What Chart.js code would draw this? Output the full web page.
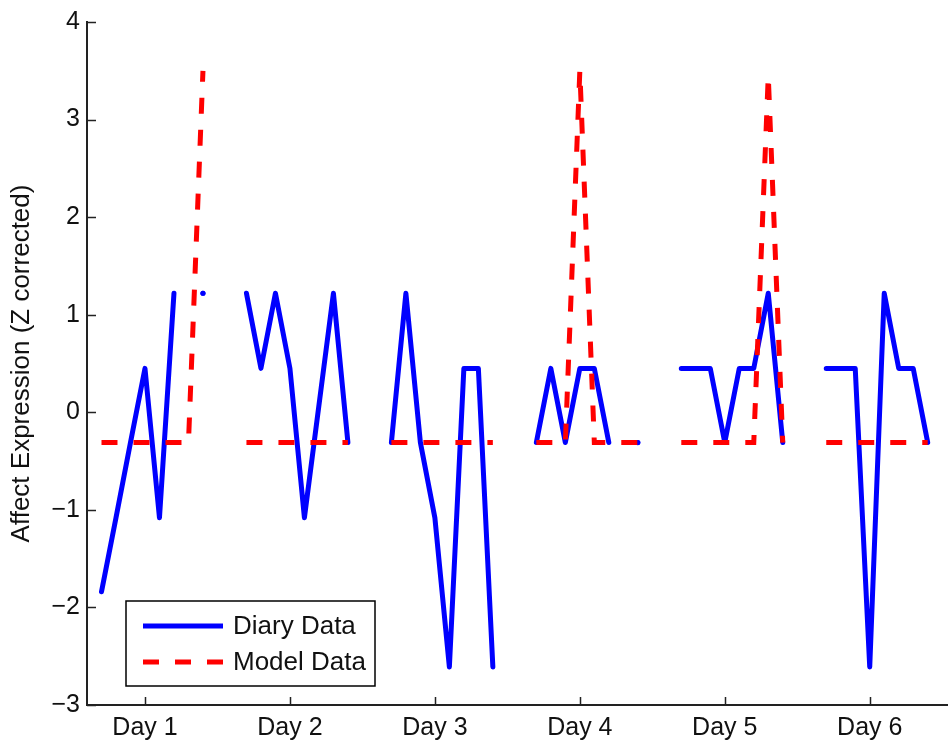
<!DOCTYPE html>
<html>
<head>
<meta charset="utf-8">
<script src="https://cdn.jsdelivr.net/npm/chart.js@4.4.1/dist/chart.umd.min.js"></script>
<style>
  html, body { margin: 0; padding: 0; background: #ffffff; }
  #wrap { width: 948px; height: 744px; }
</style>
</head>
<body>
<div id="wrap"><canvas id="c" width="948" height="744"></canvas></div>
<script>
// Day markers on the time axis
const dayTicks = [1, 2, 3, 4, 5, 6];
const dayLabels = ['Day 1', 'Day 2', 'Day 3', 'Day 4', 'Day 5', 'Day 6'];

// Affect axis ticks
const yTickValues = [-3, -2, -1, 0, 1, 2, 3, 4];
const yTickLabels = ['\u22123', '\u22122', '\u22121', '0', '1', '2', '3', '4'];

const yTitle = 'Affect Expression (Z corrected)';
const seriesNames = ['Diary Data', 'Model Data'];

// Diary samples (null = no entry, breaks the line between days)
const diaryTimes = [
  0.7, 0.8, 0.9, 1.0, 1.1, 1.2, 1.3, 1.4, 1.5,
  1.7, 1.8, 1.9, 2.0, 2.1, 2.3, 2.4, 2.5,
  2.7, 2.8, 2.9, 3.0, 3.1, 3.2, 3.3, 3.4, 3.5,
  3.7, 3.8, 3.9, 4.0, 4.1, 4.2, 4.3, 4.4, 4.5,
  4.7, 4.8, 4.9, 5.0, 5.1, 5.2, 5.3, 5.4, 5.5,
  5.7, 5.8, 5.9, 6.0, 6.1, 6.2, 6.3, 6.4
];
const diaryValues = [
  -1.84, -1.08, -0.31, 0.45, -1.08, 1.22, null, 1.22, null,
  1.22, 0.45, 1.22, 0.45, -1.08, 1.22, -0.31, null,
  -0.31, 1.22, -0.31, -1.08, -2.61, 0.45, 0.45, -2.61, null,
  -0.31, 0.45, -0.31, 0.45, 0.45, -0.31, null, -0.31, null,
  0.45, 0.45, 0.45, -0.31, 0.45, 0.45, 1.22, -0.31, null,
  0.45, 0.45, 0.45, -2.61, 1.22, 0.45, 0.45, -0.31
];

// Model output at the same sampling times
const modelTimes = [
  0.7, 0.8, 0.9, 1.0, 1.1, 1.2, 1.3, 1.4, 1.5,
  1.7, 1.8, 1.9, 2.0, 2.1, 2.2, 2.3, 2.4, 2.5,
  2.7, 2.8, 2.9, 3.0, 3.1, 3.2, 3.3, 3.4, 3.5,
  3.7, 3.8, 3.9, 4.0, 4.1, 4.2, 4.3, 4.4, 4.5,
  4.7, 4.8, 4.9, 5.0, 5.1, 5.2, 5.3, 5.4, 5.5,
  5.7, 5.8, 5.9, 6.0, 6.1, 6.2, 6.3, 6.4
];
const modelValues = [
  -0.31, -0.31, -0.31, -0.31, -0.31, -0.31, -0.31, 3.5, null,
  -0.31, -0.31, -0.31, -0.31, -0.31, -0.31, -0.31, -0.31, null,
  -0.31, -0.31, -0.31, -0.31, -0.31, -0.31, -0.31, -0.31, null,
  -0.31, -0.31, -0.31, 3.5, -0.31, -0.31, -0.31, -0.31, null,
  -0.31, -0.31, -0.31, -0.31, -0.31, -0.31, 3.45, -0.31, null,
  -0.31, -0.31, -0.31, -0.31, -0.31, -0.31, -0.31, -0.31
];

const toPoints = (xs, ys) => xs.map((x, i) => ({ x: x, y: ys[i] }));

const FONT_FAMILY = '"Liberation Sans", Arial, Helvetica, sans-serif';
const INK = '#111111';
const AXIS = '#222222';

// A point with no neighbours would be invisible as a line, so show it as a dot
function isolatedRadius(ctx) {
  const d = ctx.dataset.data;
  const i = ctx.dataIndex;
  if (d[i] == null || d[i].y == null) return 0;
  const prev = i > 0 ? d[i - 1].y : null;
  const next = i < d.length - 1 ? d[i + 1].y : null;
  return (prev == null && next == null) ? 2.6 : 0;
}

// Tick marks pointing into the plot area
const innerTicks = {
  id: 'innerTicks',
  beforeDatasetsDraw(chart) {
    const { ctx, chartArea, scales } = chart;
    ctx.save();
    ctx.strokeStyle = AXIS;
    ctx.lineWidth = 1.5;
    ctx.beginPath();
    scales.y.ticks.forEach(t => {
      const py = Math.round(scales.y.getPixelForValue(t.value)) + 0.5;
      ctx.moveTo(chartArea.left, py);
      ctx.lineTo(chartArea.left + 9, py);
    });
    scales.x.ticks.forEach(t => {
      const px = Math.round(scales.x.getPixelForValue(t.value)) + 0.5;
      ctx.moveTo(px, chartArea.bottom);
      ctx.lineTo(px, chartArea.bottom - 8);
    });
    ctx.stroke();
    ctx.restore();
  }
};

// Boxed legend in the lower-left corner of the plot
const boxLegend = {
  id: 'boxLegend',
  afterDraw(chart) {
    const { ctx, chartArea } = chart;
    const bx = chartArea.left + 39, by = chartArea.top + 579, bw = 249, bh = 85;
    ctx.save();
    ctx.fillStyle = '#ffffff';
    ctx.fillRect(bx, by, bw, bh);
    ctx.strokeStyle = '#000000';
    ctx.lineWidth = 1.5;
    ctx.strokeRect(bx, by, bw, bh);
    chart.data.datasets.forEach((ds, i) => {
      const ry = by + 25 + i * 36;
      ctx.beginPath();
      ctx.strokeStyle = ds.borderColor;
      ctx.lineWidth = ds.borderWidth;
      ctx.lineCap = 'butt';
      ctx.setLineDash(ds.borderDash || []);
      ctx.moveTo(bx + 17, ry);
      ctx.lineTo(bx + 97, ry);
      ctx.stroke();
      ctx.setLineDash([]);
      ctx.fillStyle = INK;
      ctx.font = '26px ' + FONT_FAMILY;
      ctx.textAlign = 'left';
      ctx.textBaseline = 'middle';
      ctx.fillText(ds.label, bx + 107, ry + 1);
    });
    ctx.restore();
  }
};

new Chart(document.getElementById('c'), {
  type: 'line',
  data: {
    datasets: [
      {
        label: seriesNames[0],
        data: toPoints(diaryTimes, diaryValues),
        borderColor: '#0000ff',
        backgroundColor: '#0000ff',
        borderWidth: 5,
        borderCapStyle: 'round',
        borderJoinStyle: 'round',
        pointRadius: isolatedRadius,
        pointHoverRadius: 0,
        pointBorderWidth: 0,
        spanGaps: false,
        tension: 0,
        order: 1
      },
      {
        label: seriesNames[1],
        data: toPoints(modelTimes, modelValues),
        borderColor: '#ff0000',
        backgroundColor: '#ff0000',
        borderWidth: 5,
        borderDash: [16, 16],
        borderCapStyle: 'butt',
        borderJoinStyle: 'miter',
        pointRadius: 0,
        pointHoverRadius: 0,
        spanGaps: false,
        tension: 0,
        order: 0
      }
    ]
  },
  options: {
    responsive: false,
    devicePixelRatio: 1,
    animation: false,
    layout: { padding: { top: 18, left: 0, right: 0, bottom: 0 } },
    plugins: {
      legend: { display: false },
      tooltip: { enabled: false }
    },
    scales: {
      x: {
        type: 'linear',
        min: 0.6,
        max: 6.54,
        afterBuildTicks: s => { s.ticks = dayTicks.map(v => ({ value: v })); },
        ticks: {
          autoSkip: false,
          maxRotation: 0,
          padding: 8,
          color: INK,
          font: { family: FONT_FAMILY, size: 25 },
          callback: v => dayLabels[dayTicks.indexOf(v)]
        },
        grid: { display: false, drawTicks: false },
        border: { display: true, color: AXIS, width: 2 },
        afterFit: s => { s.height = 39; }
      },
      y: {
        type: 'linear',
        min: -3,
        max: 4,
        afterBuildTicks: s => { s.ticks = yTickValues.map(v => ({ value: v })); },
        ticks: {
          padding: 7,
          color: INK,
          font: { family: FONT_FAMILY, size: 25 },
          callback: v => yTickLabels[yTickValues.indexOf(v)]
        },
        grid: { display: false, drawTicks: false },
        border: { display: true, color: AXIS, width: 2 },
        title: {
          display: true,
          text: yTitle,
          color: INK,
          font: { family: FONT_FAMILY, size: 26 },
          padding: { top: 6, bottom: 0 }
        },
        afterFit: s => { s.width = 87; }
      }
    }
  },
  plugins: [innerTicks, boxLegend]
});
</script>
</body>
</html>
